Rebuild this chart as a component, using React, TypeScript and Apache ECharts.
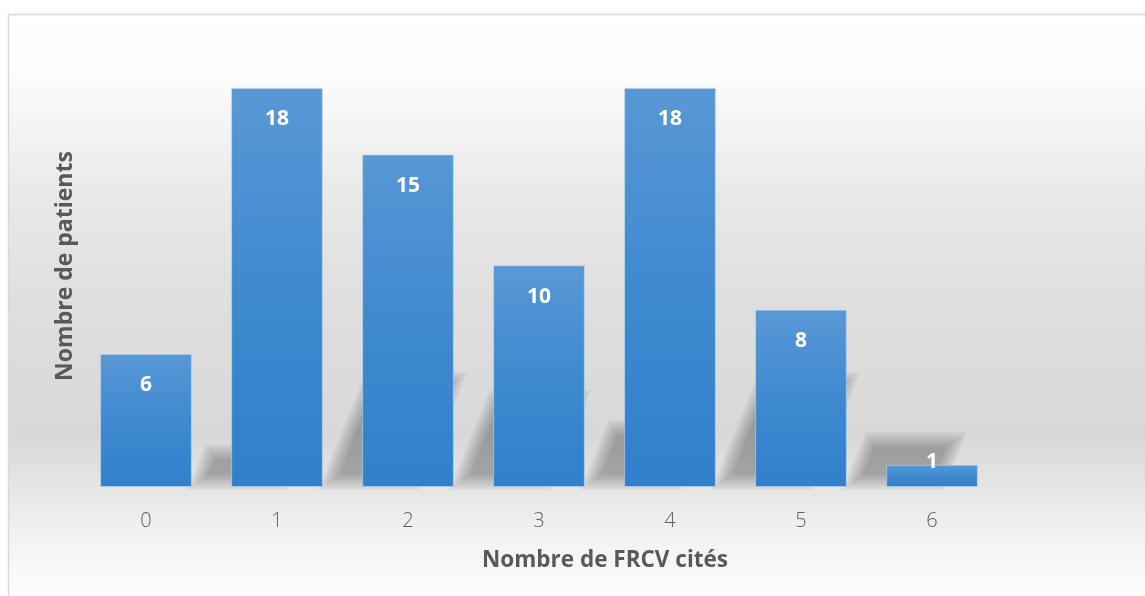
import React, { useEffect, useRef } from "react";
import * as echarts from "echarts";

const categories = ["0", "1", "2", "3", "4", "5", "6"];
const patients = [6, 18, 15, 10, 18, 8, 1];
const xTitle = "Nombre de FRCV cités";
const yTitle = "Nombre de patients";

export default function App() {
  const ref = useRef<HTMLDivElement>(null);
  useEffect(() => {
    if (!ref.current) return;
    const chart = echarts.init(ref.current, undefined, { renderer: "svg" });
    const font = "'Open Sans', 'Noto Sans', sans-serif";
    const barData = patients.map((v) =>
      v < 3
        ? { value: v, label: { position: "insideTop", distance: -15 } }
        : { value: v }
    );
    chart.setOption({
      animation: false,
      grid: { left: 80.5, right: 147.5, top: 43.6, bottom: 109 },
      graphic: [
        {
          type: "rect",
          z: -10,
          silent: true,
          shape: { x: 8.5, y: 14.5, width: 1200, height: 600 },
          style: {
            stroke: "#d9d9d9",
            lineWidth: 1.5,
            fill: {
              type: "linear",
              x: 0,
              y: 0,
              x2: 0,
              y2: 1,
              colorStops: [
                { offset: 0, color: "#ffffff" },
                { offset: 0.09, color: "#fdfdfd" },
                { offset: 0.31, color: "#e8e8e8" },
                { offset: 0.48, color: "#dfdfdf" },
                { offset: 0.7, color: "#d8d8d8" },
                { offset: 0.76, color: "#e1e1e1" },
                { offset: 0.855, color: "#f0f0f0" },
                { offset: 0.95, color: "#fbfbfb" },
                { offset: 1, color: "#ffffff" },
              ],
            },
          },
        },
        {
          type: "text",
          x: 605,
          y: 558,
          style: {
            text: xTitle,
            font: `bold 22.5px ${font}`,
            fill: "#595959",
            textAlign: "center",
            textVerticalAlign: "middle",
          },
        },
        {
          type: "text",
          x: 63,
          y: 266,
          rotation: Math.PI / 2,
          style: {
            text: yTitle,
            font: `bold 23px ${font}`,
            fill: "#595959",
            textAlign: "center",
            textVerticalAlign: "middle",
          },
        },
      ],
      xAxis: {
        type: "category",
        data: categories,
        axisLine: { show: false },
        axisTick: { show: false },
        axisLabel: {
          color: "#606060",
          fontSize: 20,
          fontFamily: font,
          fontWeight: 300,
          margin: 22,
        },
      },
      yAxis: {
        type: "value",
        min: 0,
        max: 20,
        interval: 5,
        show: false,
        splitLine: { show: false },
      },
      series: [
        {
          type: "custom",
          z: 1,
          silent: true,
          data: patients.map((v, i) => [i, v]),
          renderItem: (params: any, api: any) => {
            const idx = api.value(0);
            const v = api.value(1);
            const base = api.coord([idx, 0]);
            const top = api.coord([idx, v]);
            const h = base[1] - top[1];
            const w = api.size([1, 0])[0] * 0.7;
            const xL = base[0] - w / 2 + w + 2;
            const xR = xL + w;
            const y0 = base[1] - 2;
            const K = 0.11 * h;
            const H = 0.27 * h;
            const children: any[] = [];
            if (H < 15) return { type: "group", children };
            const insets = [-5, -2.5, 0, 2.5, 5, 7.5, 10];
            for (const d of insets) {
              if (H - 2 * d <= 2) continue;
              const pts = [
                [xL + d + (K * d) / H, y0 - d],
                [xR - d + (K * d) / H, y0 - d],
                [xR - d + (K * (H - d)) / H, y0 - H + d],
                [xL + d + (K * (H - d)) / H, y0 - H + d],
              ];
              children.push({
                type: "polygon",
                shape: { points: pts },
                style: { fill: "rgba(0,0,0,0.042)" },
              });
            }
            return { type: "group", children };
          },
        },
        {
          type: "bar",
          z: 3,
          barWidth: "70%",
          data: barData,
          itemStyle: {
            color: {
              type: "linear",
              x: 0,
              y: 0,
              x2: 0,
              y2: 1,
              colorStops: [
                { offset: 0, color: "#5898d5" },
                { offset: 0.5, color: "#3f8ad0" },
                { offset: 1, color: "#3180cc" },
              ],
            },
            borderColor: "rgba(190,215,240,0.6)",
            borderWidth: 1,
          },
          label: {
            show: true,
            position: "insideTop",
            distance: 19,
            color: "#ffffff",
            fontSize: 21,
            fontWeight: "bold",
            fontFamily: font,
          },
        },
      ],
    });
    return () => chart.dispose();
  }, []);
  return (
    <div
      ref={ref}
      style={{ position: "fixed", left: 0, top: 0, width: 1145, height: 596 }}
    />
  );
}
